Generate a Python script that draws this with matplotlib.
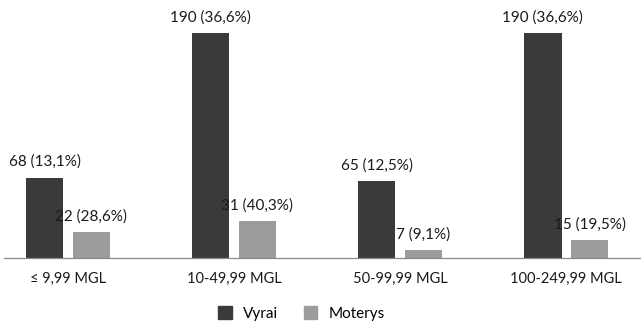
import numpy as np
import matplotlib
matplotlib.use("Agg")
import matplotlib.pyplot as plt
from matplotlib.patches import Patch

plt.rcParams["font.family"] = ["Lato", "DejaVu Sans"]

# Counts per income group (MGL), with share of each sex
categories = ["≤ 9,99 MGL", "10-49,99 MGL", "50-99,99 MGL", "100-249,99 MGL"]
men = [68, 190, 65, 190]
men_pct = ["13,1%", "36,6%", "12,5%", "36,6%"]
women = [22, 31, 7, 15]
women_pct = ["28,6%", "40,3%", "9,1%", "19,5%"]

dark = "#3a3a3a"
light = "#9c9c9c"
txt = "#1a1a1a"

fig = plt.figure(figsize=(6.41, 3.25), dpi=100)
ax = fig.add_axes([4 / 641, 67 / 325, 637 / 641, 258 / 325])

x = np.arange(len(categories))
w = 0.225
off = 0.141
b1 = ax.bar(x - off, men, w, color=dark)
b2 = ax.bar(x + off, women, w, color=light)

# value labels above each bar
for bars, vals, pcts in [(b1, men, men_pct), (b2, women, women_pct)]:
    for bar, v, p in zip(bars, vals, pcts):
        ax.annotate(f"{v} ({p})", (bar.get_x() + bar.get_width() / 2, v),
                    xytext=(0, 6), textcoords="offset points",
                    ha="center", va="bottom", fontsize=11, color=txt)

ax.set_xlim(-0.385, 3.45)
ax.set_ylim(0, 218)
ax.set_yticks([])
ax.set_xticks(x)
ax.set_xticklabels(categories, fontsize=10.5, color=txt)
ax.tick_params(axis="x", length=0, pad=10)
for s in ["top", "right", "left"]:
    ax.spines[s].set_visible(False)
ax.spines["bottom"].set_color("#8a8a8a")
ax.spines["bottom"].set_linewidth(0.9)

handles = [Patch(color=dark, label="Vyrai"), Patch(color=light, label="Moterys")]
fig.legend(handles=handles, loc="center", bbox_to_anchor=(0.47, 0.035), ncol=2,
           frameon=False, fontsize=11, handlelength=0.9, handleheight=0.9,
           columnspacing=1.7, handletextpad=0.7)

fig.savefig("out.png", dpi=100)
